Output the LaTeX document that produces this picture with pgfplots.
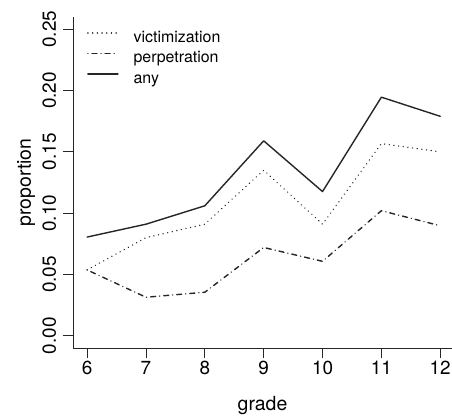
\documentclass[border=0pt]{standalone}
\usepackage{pgfplots}
\pgfplotsset{compat=1.18}
\usepackage{fontspec}
\setmainfont{TeX Gyre Heros}
\begin{document}
\begin{tikzpicture}
\useasboundingbox (-73bp,-71bp) rectangle (379bp,348bp);
\begin{axis}[
  scale only axis,
  width=379bp, height=331bp,
  xmin=5.76, xmax=12.2,
  ymin=-0.01, ymax=0.26,
  axis x line=bottom, axis y line=left,
  axis line style={-, line width=0.9bp, color=black!85},
  tick style={line width=0.9bp, color=black!85},
  tick align=outside,
  major tick length=10bp,
  xtick={6,7,8,9,10,11,12},
  ytick={0,0.05,0.10,0.15,0.20,0.25},
  yticklabels={0.00,0.05,0.10,0.15,0.20,0.25},
  /pgf/number format/assume math mode=true,
  tick label style={font=\fontsize{19}{22}\selectfont},
  yticklabel style={xshift=-7bp, rotate=90, anchor=base},
  xticklabel style={anchor=north},
  xlabel={grade}, ylabel={proportion},
  every axis x label/.style={at={(axis description cs:0.5,0)}, anchor=base, yshift=-62bp, font=\fontsize{19.5}{22}\selectfont},
  every axis y label/.style={at={(axis description cs:0,0.5)}, xshift=-42bp, rotate=90, anchor=base, font=\fontsize{19.5}{22}\selectfont},
  legend style={draw=none, fill=none, at={(axis description cs:0,1)}, anchor=north west,
    xshift=14bp, yshift=-13bp, font=\fontsize{16}{18}\selectfont,
    row sep=4.5bp, column sep=0bp, inner sep=0pt,
    nodes={inner sep=0pt, text height=12bp, text depth=4bp}},
  legend cell align=left,
  legend image code/.code={\draw[#1] (0bp,5bp) -- (30bp,5bp);\path (45bp,5bp);},
  every axis plot/.append style={line width=1.4bp, color=black!85, line cap=round, line join=round},
]
\addplot[dash pattern=on 0.1bp off 4.6bp] coordinates {
(6,0.0537) (7,0.080) (8,0.091) (9,0.135) (10,0.091) (11,0.1567) (12,0.150)};
\addlegendentry{victimization}
\addplot[dash pattern=on 0.1bp off 4bp on 5bp off 4bp] coordinates {
(6,0.0537) (7,0.0314) (8,0.0355) (9,0.072) (10,0.0607) (11,0.102) (12,0.0897)};
\addlegendentry{perpetration}
\addplot[solid] coordinates {
(6,0.0805) (7,0.091) (8,0.106) (9,0.159) (10,0.1176) (11,0.1946) (12,0.179)};
\addlegendentry{any}
\end{axis}
\end{tikzpicture}
\end{document}
